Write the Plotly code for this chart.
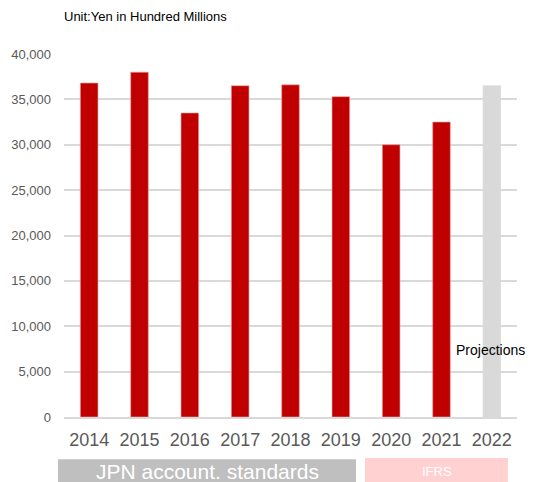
import plotly.graph_objects as go

years = ["2014", "2015", "2016", "2017", "2018", "2019", "2020", "2021", "2022"]
values = [36800, 38000, 33500, 36500, 36600, 35300, 30000, 32500, 36500]
bar_colors = ["#c00000"] * 8 + ["#d9d9d9"]
edge_colors = ["#eea0a0"] * 8 + ["#d9d9d9"]
y_ticks = [0, 5000, 10000, 15000, 20000, 25000, 30000, 35000, 40000]
y_tick_labels = ["0", "5,000", "10,000", "15,000", "20,000", "25,000", "30,000", "35,000", "40,000"]

# page offset of the plot (body margin 8px)
OFF = 8
PL, PR, PT, PB = 64, 517, 54, 416.7  # plot area in page pixels
PW, PH = PR - PL, PB - PT


def px(x):
    return (x - PL) / PW


def py(y):
    return (PB - y) / PH


fig = go.Figure()
fig.add_trace(go.Bar(
    x=years, y=values,
    marker=dict(color=bar_colors, line=dict(color=edge_colors, width=0.6)),
    width=0.35,
))

W, H = 534 - OFF, 482 - OFF
fig.update_layout(
    width=W, height=H,
    margin=dict(l=PL - OFF, r=W - (PR - OFF), t=PT - OFF, b=H - (PB - OFF)),
    paper_bgcolor="white", plot_bgcolor="white",
    showlegend=False,
    font=dict(family="Liberation Sans, Arial, sans-serif"),
    xaxis=dict(
        type="category", automargin=False,
        tickfont=dict(size=18, color="#595959"),
        showgrid=False, showline=True, linecolor="#d9d9d9", linewidth=1.5,
        ticks="", ticklabelstandoff=6,
    ),
    yaxis=dict(
        range=[0, 40000], automargin=False,
        tickvals=y_ticks, ticktext=y_tick_labels,
        tickfont=dict(size=13, color="#595959"),
        showgrid=True, gridcolor="#d9d9d9", gridwidth=1.5,
        zeroline=False, showline=False, ticks="", ticklabelstandoff=12,
    ),
    annotations=[
        dict(text="Unit:Yen in Hundred Millions", xref="paper", yref="paper",
             x=px(62), y=py(17), xanchor="left", yanchor="middle", showarrow=False,
             font=dict(size=13, color="#000000")),
        dict(text="Projections", xref="paper", yref="paper",
             x=px(454), y=py(350), xanchor="left", yanchor="middle", showarrow=False,
             font=dict(size=14, color="#000000")),
        dict(text="JPN account. standards", xref="paper", yref="paper",
             x=px((58 + 356) / 2), y=py(471), xanchor="center", yanchor="middle",
             showarrow=False, font=dict(size=21, color="#ffffff")),
        dict(text="IFRS", xref="paper", yref="paper",
             x=px((365 + 508) / 2), y=py(471), xanchor="center", yanchor="middle",
             showarrow=False, font=dict(size=13, color="#ffffff")),
    ],
    shapes=[
        dict(type="rect", xref="paper", yref="paper",
             x0=px(58), x1=px(356), y0=py(490), y1=py(459),
             fillcolor="#bfbfbf", line=dict(width=0), layer="below"),
        dict(type="rect", xref="paper", yref="paper",
             x0=px(365), x1=px(508), y0=py(490), y1=py(457.7),
             fillcolor="#ffd1d1", line=dict(width=0), layer="below"),
    ],
)

fig.write_html("out.html")
